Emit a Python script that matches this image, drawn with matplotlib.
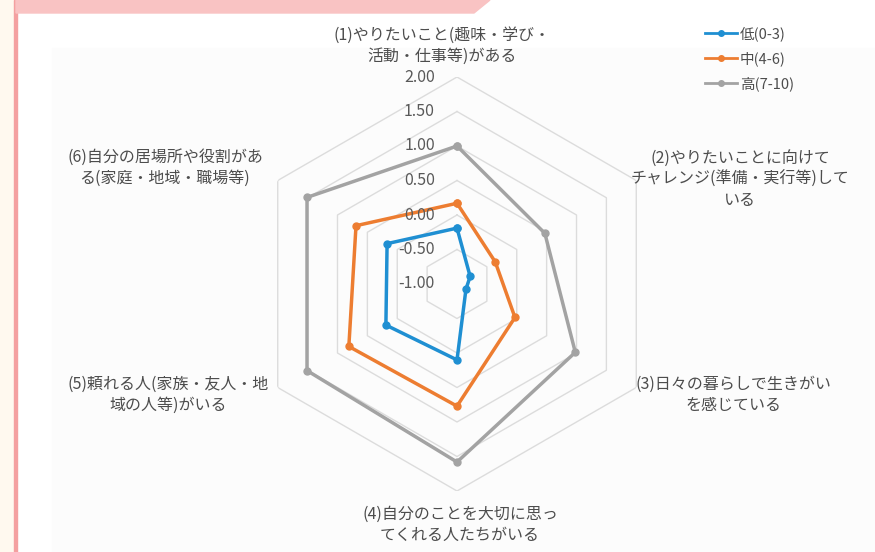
import numpy as np
import matplotlib
matplotlib.use("Agg")
import matplotlib.pyplot as plt
from matplotlib.patches import Polygon, Rectangle

plt.rcParams['font.family'] = ['Noto Sans CJK JP', 'DejaVu Sans']

# データ
categories = [
    "(1)やりたいこと(趣味・学び・\n活動・仕事等)がある",
    "(2)やりたいことに向けて\nチャレンジ(準備・実行等)して\nいる",
    "(3)日々の暮らしで生きがい\nを感じている",
    "(4)自分のことを大切に思っ\nてくれる人たちがいる",
    "(5)頼れる人(家族・友人・地\n域の人等)がいる",
    "(6)自分の居場所や役割があ\nる(家庭・地域・職場等)",
]
series_names = ["低(0-3)", "中(4-6)", "高(7-10)"]
low = [-0.19, -0.78, -0.85, 0.10, 0.19, 0.17]
mid = [0.17, -0.36, -0.03, 0.77, 0.81, 0.69]
high = [1.00, 0.47, 0.98, 1.58, 1.51, 1.51]
levels = [-1.0, -0.5, 0.0, 0.5, 1.0, 1.5, 2.0]
level_labels = ["-1.00", "-0.50", "0.00", "0.50", "1.00", "1.50", "2.00"]

colors = ['#1f8fd2', '#ed7d31', '#a3a3a3']

W, H = 875, 552
fig = plt.figure(figsize=(W / 100, H / 100), dpi=100)


def px(x, y):
    # ピクセル座標 -> figure座標
    return x / W, 1 - y / H


# 背景の飾り
fig.patches.append(Rectangle((0, 0), 14 / W, 1, transform=fig.transFigure,
                             color='#fff9ef', zorder=-3))
fig.patches.append(Rectangle((52 / W, 0), 1, 1 - 48 / H, transform=fig.transFigure,
                             color='#fcfcfc', zorder=-3))
fig.patches.append(Rectangle((14 / W, 0), 2.5 / W, 1, transform=fig.transFigure,
                             color='#f4a0a0', zorder=-2))
fig.patches.append(Polygon([px(16, 0), px(490, 0), px(474, 13), px(16, 13)],
                           closed=True, transform=fig.transFigure,
                           color='#f9c3c3', zorder=-2))

# レーダーチャート
cx, cy, R = 457, 284, 207
ax = fig.add_axes([(cx - R) / W, (H - cy - R) / H, 2 * R / W, 2 * R / H],
                  projection='polar')
ax.set_theta_offset(np.pi / 2)
ax.set_theta_direction(-1)
ax.set_ylim(-1, 2)
ax.grid(False)
ax.set_xticks([])
ax.set_yticks([])
ax.spines['polar'].set_visible(False)
ax.patch.set_alpha(0)

n = len(categories)
ang = np.linspace(0, 2 * np.pi, n, endpoint=False)
ang_c = np.append(ang, ang[0])

for lv in levels[1:]:
    ax.plot(ang_c, [lv] * (n + 1), color='#dcdcdc', lw=1, zorder=1)

for lv, lbl in zip(levels, level_labels):
    ax.annotate(lbl, (0, lv), xytext=(-16, 0), textcoords='offset points',
                ha='right', va='center', fontsize=11.5, color='#595959', zorder=5)

for vals, name, c in zip([low, mid, high], series_names, colors):
    v = np.append(vals, vals[0])
    ax.plot(ang_c, v, color=c, lw=2.5, marker='o', markersize=5, label=name, zorder=3)

# 項目ラベル
lab_pos = [(442, 46), (740, 179), (733, 395), (460, 525), (168, 395), (165, 168)]
for txt, (x, y) in zip(categories, lab_pos):
    fig.text(*px(x, y), txt, ha='center', va='center', fontsize=11.5,
             color='#4d4d4d', linespacing=1.3)

leg = ax.legend(loc='upper left', bbox_to_anchor=px(699, 20),
                bbox_transform=fig.transFigure, frameon=False, fontsize=10.5,
                handlelength=2.2, labelspacing=0.72, handletextpad=0.2,
                borderaxespad=0)
for t in leg.get_texts():
    t.set_color('#4d4d4d')
for h in leg.legend_handles:
    h.set_linewidth(2)
    h.set_markersize(4)

fig.savefig('out.png', dpi=100)
